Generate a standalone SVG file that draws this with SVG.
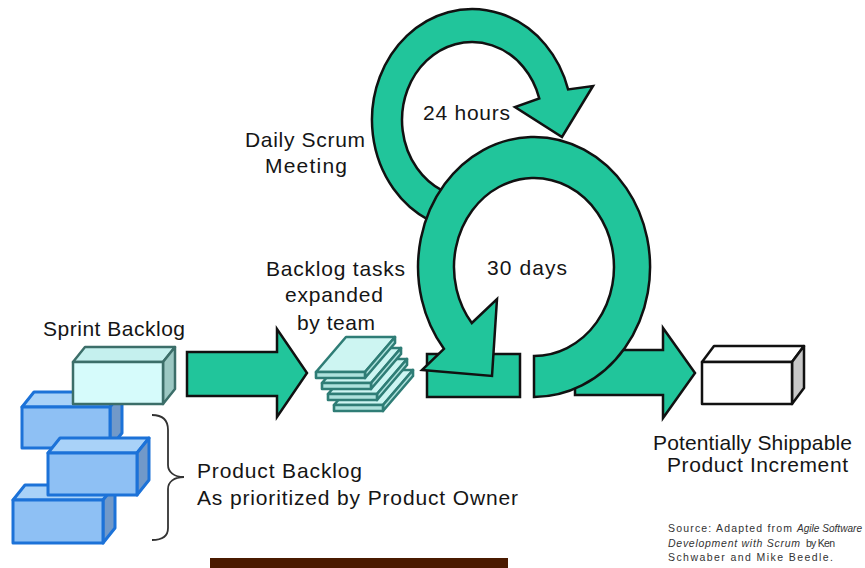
<svg xmlns="http://www.w3.org/2000/svg" width="865" height="568" viewBox="0 0 865 568">
<style>
.t{font-family:"Liberation Sans",Arial,sans-serif;font-size:21px;fill:#151515}
.s{font-family:"Liberation Sans",Arial,sans-serif;font-size:10.5px;fill:#333}
.i{font-style:italic}
.g{fill:#21c59b;stroke:#111;stroke-width:2.5;stroke-linejoin:miter}
.bf{fill:#8ec0f4;stroke:#1c72d8;stroke-width:3;stroke-linejoin:round}
.bt{fill:#a9d2f8;stroke:#1c72d8;stroke-width:3;stroke-linejoin:round}
.br{fill:#7199c9;stroke:#1c72d8;stroke-width:3;stroke-linejoin:round}
.cf{fill:#d6fbfb;stroke:#3c6e69;stroke-width:2.5;stroke-linejoin:round}
.ct{fill:#c5f0ee;stroke:#3c6e69;stroke-width:2.5;stroke-linejoin:round}
.cr{fill:#9cc8c3;stroke:#3c6e69;stroke-width:2.5;stroke-linejoin:round}
.lt{fill:#cdf5f2;stroke:#2f7d76;stroke-width:2.6;stroke-linejoin:round}
.lf{fill:#aee2dd;stroke:#2f7d76;stroke-width:2.6;stroke-linejoin:round}
.wf{fill:#fff;stroke:#111;stroke-width:2.5;stroke-linejoin:round}
.wr{fill:#c8c8c8;stroke:#111;stroke-width:2.5;stroke-linejoin:round}
</style>
<rect width="865" height="568" fill="#fff"/>

<!-- Daily scrum loop (behind) -->
<g id="daily-scrum-loop">
<path class="g" d="M429.7,220.6 A100 111 0 1 1 568.1,89.4 L593,86 L562,137 L515,107 L539.3,98.5 A70 78 0 1 0 442.4,190.7 Z"/>
</g>

<g id="connectors">
<path class="g" d="M187,352 L277,352 L277,329 L307,373 L277,417 L277,396 L187,396 Z"/>
<path class="g" d="M575,350 L663,350 L663,328 L695,373 L663,418 L663,395 L575,395 Z"/>
<rect class="g" x="427" y="354" width="93" height="43"/>
</g>

<!-- Sprint loop -->
<g id="sprint-loop">
<path class="g" d="M534,397 A116 130 0 1 0 443.9,348.8 L422,370 L492,376 L497,299 L471.8,323 A80 89 0 1 1 534,356 Z"/>
</g>

<g id="product-backlog">
<path class="bt" d="M22,407 L34,392 L122,392 L110,407 Z"/>
<path class="br" d="M110,407 L122,392 L122,433 L110,448 Z"/>
<rect class="bf" x="22" y="407" width="88" height="41"/>
<path class="bt" d="M13,500 L25,485 L115,485 L103,500 Z"/>
<path class="br" d="M103,500 L115,485 L115,528 L103,543 Z"/>
<rect class="bf" x="13" y="500" width="90" height="43"/>
<path class="bt" d="M48,453 L60,438 L149,438 L137,453 Z"/>
<path class="br" d="M137,453 L149,438 L149,480 L137,495 Z"/>
<rect class="bf" x="48" y="453" width="89" height="42"/>
<path d="M152,415 C162,415 168,420 168,430 L168,465 C168,472 174,477 184,477 C174,477 168,482 168,489 L168,528 C168,536 162,540 152,540" fill="none" stroke="#333" stroke-width="1.8"/>
<text class="t" x="197" y="478" textLength="165" lengthAdjust="spacing">Product Backlog</text>
<text class="t" x="197" y="505" textLength="321" lengthAdjust="spacing">As prioritized by Product Owner</text>
</g>

<g id="sprint-backlog">
<path class="ct" d="M73,362 L85,347 L175,347 L163,362 Z"/>
<path class="cr" d="M163,362 L175,347 L175,389 L163,404 Z"/>
<rect class="cf" x="73" y="362" width="90" height="42"/>
<text class="t" x="43" y="336" textLength="142" lengthAdjust="spacing">Sprint Backlog</text>
</g>

<g id="backlog-tasks">
<g>
<path class="lt" d="M334,405 L364,370 L413,370 L383,405 Z"/>
<path class="lf" d="M383,405 L413,370 L413,376 L383,411 Z"/>
<rect class="lf" x="334" y="405" width="49" height="6"/>
</g>
<g>
<path class="lt" d="M328,394 L358,359 L407,359 L377,394 Z"/>
<path class="lf" d="M377,394 L407,359 L407,365 L377,400 Z"/>
<rect class="lf" x="328" y="394" width="49" height="6"/>
</g>
<g>
<path class="lt" d="M322,383 L352,348 L401,348 L371,383 Z"/>
<path class="lf" d="M371,383 L401,348 L401,354 L371,389 Z"/>
<rect class="lf" x="322" y="383" width="49" height="6"/>
</g>
<g>
<path class="lt" d="M316,372 L346,337 L395,337 L365,372 Z"/>
<path class="lf" d="M365,372 L395,337 L395,343 L365,378 Z"/>
<rect class="lf" x="316" y="372" width="49" height="6"/>
</g>
<text class="t" x="266" y="276" textLength="139" lengthAdjust="spacing">Backlog tasks</text>
<text class="t" x="285" y="302" textLength="98" lengthAdjust="spacing">expanded</text>
<text class="t" x="297" y="330" textLength="78" lengthAdjust="spacing">by team</text>
</g>

<g id="labels">
<text class="t" x="245" y="147" textLength="120" lengthAdjust="spacing">Daily Scrum</text>
<text class="t" x="265" y="173" textLength="82" lengthAdjust="spacing">Meeting</text>
<text class="t" x="423" y="120" textLength="87" lengthAdjust="spacing">24 hours</text>
<text class="t" x="487" y="275" textLength="80" lengthAdjust="spacing">30 days</text>
</g>

<g id="increment">
<path class="wf" d="M702,362 L714,346 L804,346 L792,362 Z"/>
<path class="wr" d="M792,362 L804,346 L804,388 L792,404 Z"/>
<rect class="wf" x="702" y="362" width="90" height="42"/>
<text class="t" x="653" y="450" textLength="199" lengthAdjust="spacing">Potentially Shippable</text>
<text class="t" x="667" y="472" textLength="181" lengthAdjust="spacing">Product Increment</text>
</g>

<g id="source">
<text class="s" x="668" y="532" textLength="124" lengthAdjust="spacing">Source: Adapted from</text>
<text class="s i" x="797" y="532" textLength="65" lengthAdjust="spacingAndGlyphs">Agile Software</text>
<text class="s i" x="668" y="547" textLength="132" lengthAdjust="spacing">Development with Scrum</text>
<text class="s" x="806" y="547" textLength="29" lengthAdjust="spacing">by Ken</text>
<text class="s" x="668" y="561" textLength="165" lengthAdjust="spacing">Schwaber and Mike Beedle.</text>
</g>

<rect x="210" y="558" width="298" height="10" fill="#4a1a00"/>
</svg>
